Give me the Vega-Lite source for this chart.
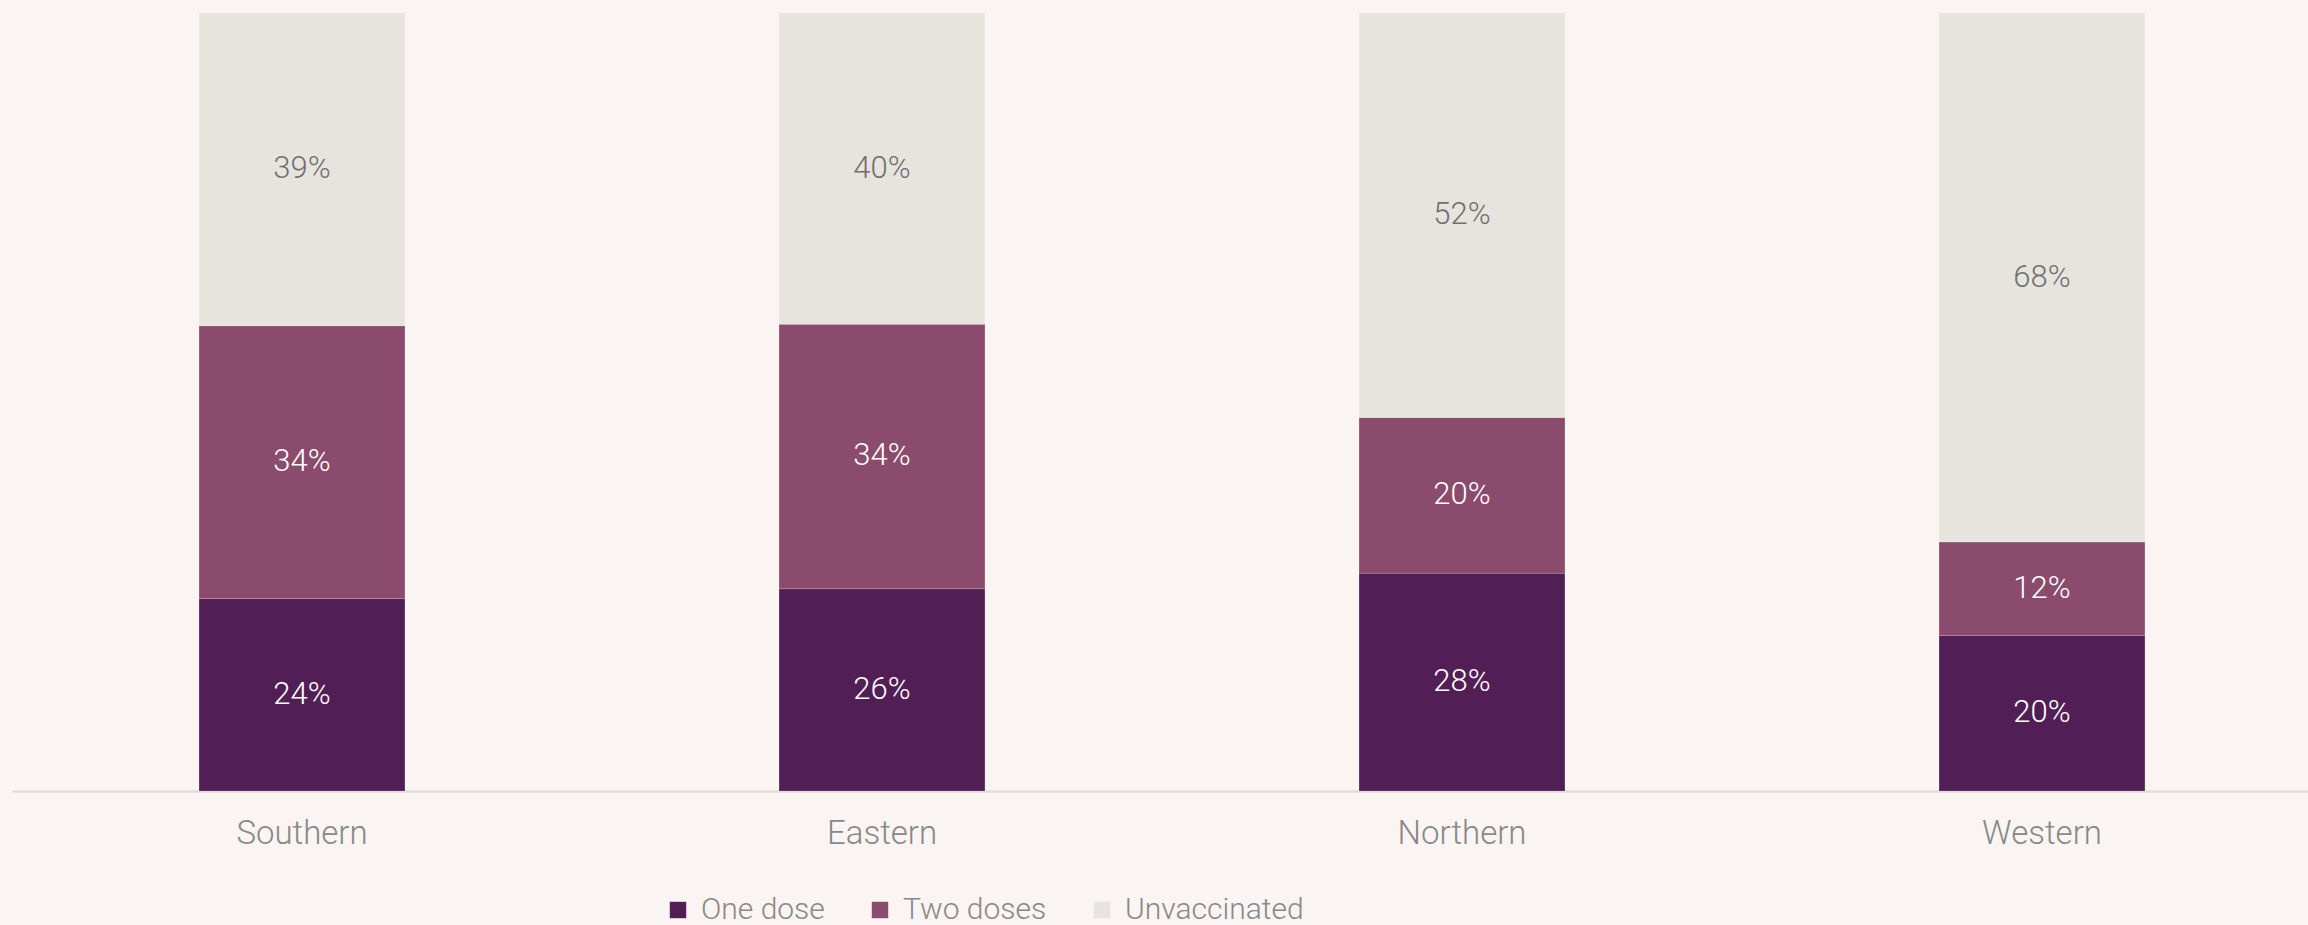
{
  "$schema": "https://vega.github.io/schema/vega-lite/v6.json",
  "width": 2296,
  "height": 778,
  "autosize": {"type": "none"},
  "padding": {"left": 12, "top": 13, "right": 0, "bottom": 134},
  "background": "#faf5f2",
  "config": {"view": {"stroke": null}, "font": "Roboto"},
  "data": {
    "values": [
      {"region": "Southern", "cat": "One dose", "v": 0.24},
      {"region": "Southern", "cat": "Two doses", "v": 0.34},
      {"region": "Southern", "cat": "Unvaccinated", "v": 0.39},
      {"region": "Eastern", "cat": "One dose", "v": 0.26},
      {"region": "Eastern", "cat": "Two doses", "v": 0.34},
      {"region": "Eastern", "cat": "Unvaccinated", "v": 0.40},
      {"region": "Northern", "cat": "One dose", "v": 0.28},
      {"region": "Northern", "cat": "Two doses", "v": 0.20},
      {"region": "Northern", "cat": "Unvaccinated", "v": 0.52},
      {"region": "Western", "cat": "One dose", "v": 0.20},
      {"region": "Western", "cat": "Two doses", "v": 0.12},
      {"region": "Western", "cat": "Unvaccinated", "v": 0.68}
    ]
  },
  "transform": [
    {"stack": "v", "groupby": ["region"], "sort": [{"field": "cat", "order": "ascending"}], "offset": "normalize", "as": ["y0", "y1"]}
  ],
  "encoding": {
    "x": {
      "field": "region",
      "type": "nominal",
      "sort": ["Southern", "Eastern", "Northern", "Western"],
      "scale": {"range": [0, 2320], "paddingInner": 0.645, "paddingOuter": 0.3225},
      "title": null,
      "axis": {
        "labelAngle": 0,
        "ticks": false,
        "domainColor": "#dfdbd9",
        "domainWidth": 2,
        "labelFontSize": 33,
        "labelFontWeight": 300,
        "labelColor": "#888888",
        "labelBaseline": "alphabetic",
        "labelPadding": 52
      }
    }
  },
  "layer": [
    {
      "mark": {"type": "bar", "stroke": "#ffffff", "strokeOpacity": 0.15, "strokeWidth": 1},
      "encoding": {
        "y": {"field": "y0", "type": "quantitative", "scale": {"domain": [0, 1]}, "axis": null},
        "y2": {"field": "y1"},
        "color": {
          "field": "cat",
          "type": "nominal",
          "scale": {"domain": ["One dose", "Two doses", "Unvaccinated"], "range": ["#511f56", "#8b4b6c", "#e7e4de"]},
          "legend": {
            "title": null,
            "orient": "none",
            "direction": "horizontal",
            "legendX": 651,
            "legendY": 882,
            "padding": 0,
            "symbolType": "square",
            "symbolSize": 270,
            "symbolStrokeWidth": 0,
            "labelFontSize": 30,
            "labelFontWeight": 300,
            "labelColor": "#888888",
            "labelOffset": 8,
            "labelLimit": 400,
            "columnPadding": 40
          }
        }
      }
    },
    {
      "transform": [
        {"fold": ["y0", "y1"], "as": ["k", "pos"]},
        {"filter": "datum.cat !== 'Unvaccinated'"}
      ],
      "mark": {"type": "text", "color": "#ffffff", "fontSize": 31, "fontWeight": 300},
      "encoding": {
        "y": {"aggregate": "mean", "field": "pos", "type": "quantitative", "stack": null},
        "detail": {"field": "cat"},
        "text": {"field": "v", "type": "quantitative", "format": ".0%"}
      }
    },
    {
      "transform": [
        {"fold": ["y0", "y1"], "as": ["k", "pos"]},
        {"filter": "datum.cat === 'Unvaccinated'"}
      ],
      "mark": {"type": "text", "color": "#707070", "fontSize": 31, "fontWeight": 300},
      "encoding": {
        "y": {"aggregate": "mean", "field": "pos", "type": "quantitative", "stack": null},
        "detail": {"field": "cat"},
        "text": {"field": "v", "type": "quantitative", "format": ".0%"}
      }
    }
  ]
}
